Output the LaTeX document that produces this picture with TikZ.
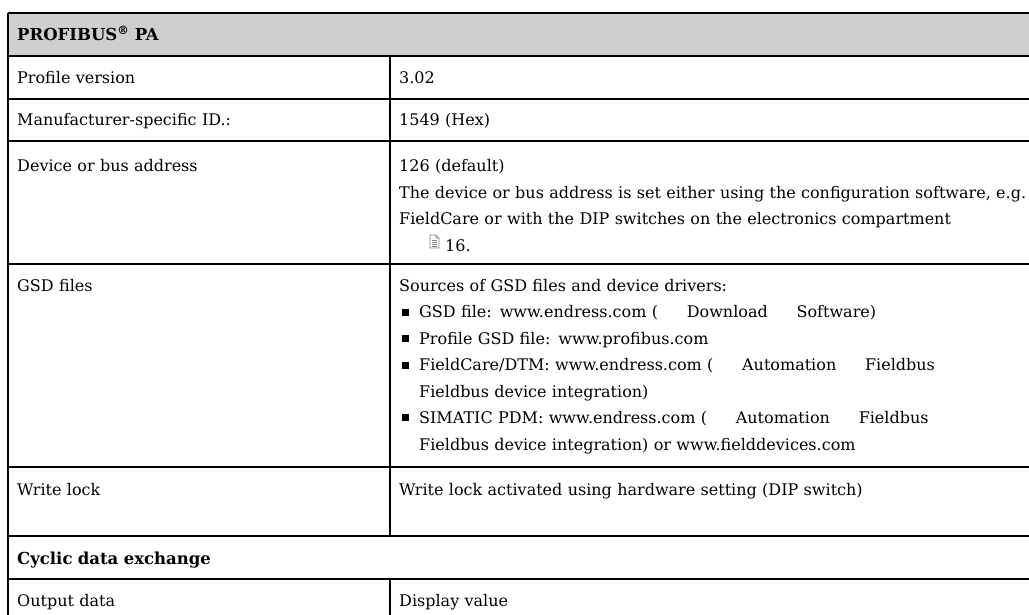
\documentclass[tikz,border=0pt]{standalone}
\usepackage{fontspec}
\setmainfont{DejaVu Serif}
\definecolor{headgray}{gray}{0.81}
\newcommand{\bul}{\hspace*{3pt}\rule[2pt]{7pt}{7pt}\hspace*{10pt}}
\newcommand{\ind}{\hspace*{20pt}}
\newcommand{\arr}{\hspace*{1.8em}}
\newcommand{\hfont}{\fontsize{16.5}{26.5}\selectfont\bfseries}
\begin{document}
\begin{tikzpicture}[x=1pt,y=-1pt,font=\fontsize{16}{26.5}\selectfont,
	cell/.style={anchor=base west,inner sep=0pt,text width=650pt,align=left},
	tline/.style={line width=1.2pt}]
	\useasboundingbox (0,0) rectangle (1029,615);
	\fill[headgray] (8,13) rectangle (1029,56);
	\foreach \y in {13,56,99,141,264,467,536,579}{
		\draw[tline] (8,\y)--(1029,\y);
	}
	\draw[tline] (8,13)--(8,615) (390,56)--(390,536) (390,579)--(390,615);
	% left column
	\node[cell] (hd) at (17,41) {\hfont PROFIBUS\textsuperscript{®} PA};
	\node[cell] (pv) at (17,84) {Profile version};
	\node[cell] (id) at (17,126) {Manufacturer-specific ID.:};
	\node[cell] (ad) at (17,172) {Device or bus address};
	\node[cell] (gsd) at (17,291) {GSD files};
	\node[cell] (wl) at (17,495) {Write lock};
	\node[cell] (cy) at (17,564) {\hfont Cyclic data exchange};
	\node[cell] (od) at (17,606) {Output data};
	% right column
	\node[cell] (pvv) at (399,84) {3.02};
	\node[cell] (idv) at (399,126) {1549 (Hex)};
	\node[cell] (adv) at (399,172) {126 (default)\\
		The device or bus address is set either using the configuration software, e.g.\\
		FieldCare or with the DIP switches on the electronics compartment\\
		\hspace*{46pt}16.};
	\node[cell] (gsdv) at (399,291) {Sources of GSD files and device drivers:\\
		\bul GSD file: www.endress.com (\arr Download\arr Software)\\
		\bul Profile GSD file: www.profibus.com\\
		\bul FieldCare/DTM: www.endress.com (\arr Automation\arr Fieldbus\\
		\ind Fieldbus device integration)\\
		\bul SIMATIC PDM: www.endress.com (\arr Automation\arr Fieldbus\\
		\ind Fieldbus device integration) or www.fielddevices.com};
	\node[cell] (wlv) at (399,495) {Write lock activated using hardware setting (DIP switch)};
	\node[cell] (odv) at (399,606) {Display value};
	% page icon
	\begin{scope}[shift={(430,235)},draw=gray,line width=0.6pt]
		\draw (0,0)--(6,0)--(9,3)--(9,13)--(0,13)--cycle (6,0)--(6,3)--(9,3);
		\foreach \v in {5,7,9,11}{\draw (2,\v)--(7,\v);}
	\end{scope}
\end{tikzpicture}
\end{document}
